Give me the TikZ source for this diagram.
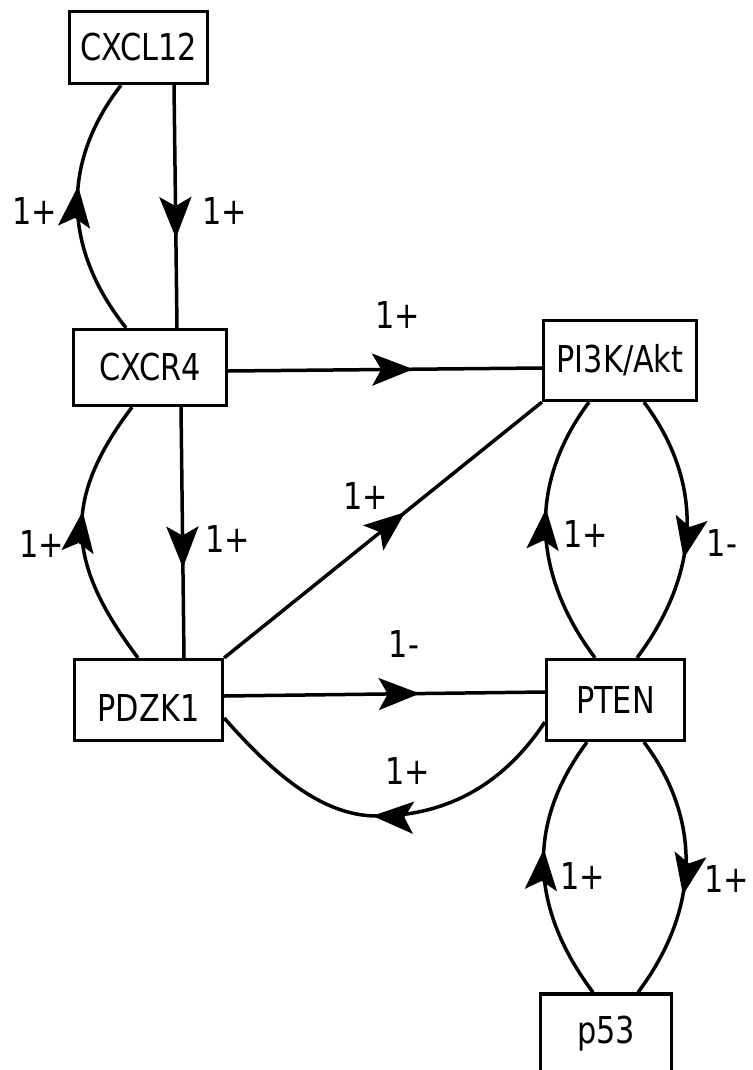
\documentclass[tikz,border=0pt]{standalone}
\usepackage{fontspec}
\setmainfont{DejaVu Sans}[FakeStretch=0.82]
\usetikzlibrary{arrows.meta,decorations.markings,calc}
\begin{document}
\begin{tikzpicture}[x=1pt,y=-1pt,
  box/.style={draw,line width=3.3pt,inner sep=0pt,font=\fontsize{37}{44}\selectfont},
  lbl/.style={inner sep=0pt,font=\fontsize{37}{44}\selectfont},
  conn/.style={line width=3.5pt,postaction={decorate},
    decoration={markings,mark=at position #1 with {\arrow{Stealth[length=41pt,width=32pt,inset=9pt]}}}},
  conn/.default=0.6]
\useasboundingbox (0,0) rectangle (752,1070);
% nodes
\node[box,minimum width=138pt,minimum height=72pt] (cxcl12) at (138.5,47.5) {CXCL12};
\node[box,minimum width=153pt,minimum height=76pt] (cxcr4) at (150,367.5) {CXCR4};
\node[box,minimum width=148pt,minimum height=81pt,text height=43pt] (pdzk1) at (148.5,700) {PDZK1};
\node[box,minimum width=153pt,minimum height=80pt] (pi3k) at (620,360.5) {PI3K/Akt};
\node[box,minimum width=138pt,minimum height=81pt] (pten) at (615.5,700) {PTEN};
\node[box,minimum width=131pt,minimum height=80pt] (p53) at (606,1034) {p53};
\coordinate (bend) at (377,816);
% connectors
\draw[conn=0.58] ($(cxcr4.north)+(-24,0)$) .. controls +(-62,-78) and +(-61,79) .. ($(cxcl12.south)+(-17.5,0)$);
\draw[conn=0.63] ($(cxcl12.south)+(35.5,0)$) -- ($(cxcr4.north)+(27,0)$);
\draw[conn=0.59] ($(cxcr4.east)+(0,3.5)$) -- ($(pi3k.west)+(0,7.5)$);
\draw[conn=0.58] ($(pdzk1.north)+(-10.5,0)$) .. controls +(-71,-94) and +(-71,94) .. ($(cxcr4.south)+(-18,0)$);
\draw[conn=0.64] ($(cxcr4.south)+(31,0)$) -- ($(pdzk1.north)+(35.5,0)$);
\draw[conn=0.57] (pdzk1.north east) -- (pi3k.south west);
\draw[conn=0.61] ($(pdzk1.east)+(0,-4)$) -- ($(pten.west)+(0,-8)$);
\draw[conn=0.53] ($(pten.west)+(0,22)$) .. controls +(-45,68) and +(63,0) .. (bend)
   .. controls +(-57,0) and +(46,52) .. ($(pdzk1.east)+(0,18)$);
\draw[conn=0.58] ($(pten.north)+(-20.5,0)$) .. controls +(-62,-83) and +(-62,83) .. ($(pi3k.south)+(-31,0)$);
\draw[conn=0.6] ($(pi3k.south)+(24,0)$) .. controls +(62,83) and +(62,-83) .. ($(pten.north)+(21.5,0)$);
\draw[conn=0.6] ($(pten.south)+(28.5,0)$) .. controls +(60,80) and +(60,-80) .. ($(p53.north)+(32,0)$);
\draw[conn=0.57] ($(p53.north)+(-13,0)$) .. controls +(-62,-83) and +(-62,83) .. ($(pten.south)+(-28.5,0)$);
% labels
\node[lbl] (l1) at (35,211) {1+};
\node[lbl] (l2) at (225,211) {1+};
\node[lbl] (l3) at (398,315) {1+};
\node[lbl] (l4) at (42,544) {1+};
\node[lbl] (l5) at (228,539) {1+};
\node[lbl] (l6) at (366,496) {1+};
\node[lbl] (l7) at (404,644) {1-};
\node[lbl] (l8) at (408,771) {1+};
\node[lbl] (l9) at (586,534) {1+};
\node[lbl] (l10) at (722,543) {1-};
\node[lbl] (l11) at (583,876) {1+};
\node[lbl] (l12) at (727,879) {1+};
\end{tikzpicture}
\end{document}
